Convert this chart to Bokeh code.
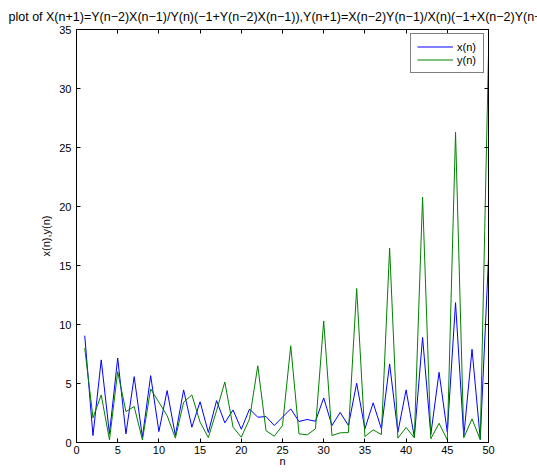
from bokeh.plotting import figure
from bokeh.models import Range1d, LinearAxis, FixedTicker
from bokeh.embed import file_html
from bokeh.resources import INLINE

n = list(range(1, 51))
x_n = [9.05, 0.59, 7.0, 0.73, 7.16, 0.73, 5.58, 0.45, 5.67, 0.93,
       4.4, 0.59, 4.46, 1.3, 3.45, 0.85, 3.55, 1.66, 2.76, 1.12,
       2.84, 2.14, 2.2, 1.44, 2.15, 2.85, 1.78, 1.95, 1.8, 3.78,
       1.44, 2.55, 1.44, 5.02, 1.16, 3.36, 1.16, 6.66, 0.87, 4.46,
       0.45, 8.9, 0.68, 5.95, 0.87, 11.85, 0.51, 7.9, 0.31, 15.6]
y_n = [8.0, 2.09, 4.03, 0.22, 6.0, 2.62, 3.05, 0.22, 4.54, 3.41,
       2.28, 0.37, 3.41, 4.03, 1.72, 0.42, 2.7, 5.13, 1.3, 0.45,
       2.0, 6.5, 1.0, 0.53, 1.44, 8.2, 0.73, 0.65, 1.16, 10.3,
       0.59, 0.82, 0.84, 13.05, 0.51, 1.07, 0.68, 16.47, 0.37, 1.27,
       0.4, 20.8, 0.31, 1.63, 0.23, 26.3, 0.4, 2.0, 0.23, 33.0]
x_ticks = list(range(0, 51, 5))
y_ticks = list(range(0, 36, 5))
title_text = ("plot of X(n+1)=Y(n\u22122)X(n\u22121)/Y(n)(\u22121+Y(n\u22122)X(n\u22121)),"
              "Y(n+1)=X(n\u22122)Y(n\u22121)/X(n)(\u22121+X(n\u22122)Y(n\u22121))")

FONT = "Liberation Sans"

p = figure(width=537, height=473, x_range=Range1d(0, 50), y_range=Range1d(0, 35),
           output_backend="svg", toolbar_location=None,
           min_border_left=76, min_border_right=49, min_border_top=29, min_border_bottom=31)
p.xgrid.visible = False
p.ygrid.visible = False
p.outline_line_color = "black"
p.background_fill_color = "white"

p.title.text = title_text
p.title.align = "left"
p.title.offset = -68
p.title.vertical_align = "bottom"
p.title.text_font = FONT
p.title.text_font_style = "normal"
p.title.text_font_size = "12.5px"
p.title.text_color = "black"
p.title.standoff = 11

def style_axis(ax, labels=True):
    ax.major_tick_in = 4
    ax.major_tick_out = 0
    ax.minor_tick_in = 0
    ax.minor_tick_out = 0
    ax.axis_line_color = "black"
    ax.major_tick_line_color = "black"
    ax.major_label_text_font = FONT
    ax.axis_label_text_font = FONT
    ax.axis_label_text_font_style = "normal"
    ax.axis_label_text_font_size = "11px"
    ax.axis_label_text_color = "black"
    if labels:
        ax.major_label_text_font_size = "11px"
        ax.major_label_text_color = "black"
    else:
        ax.major_label_text_font_size = "0px"
        ax.major_label_text_color = None
        ax.major_label_standoff = 0

xa = p.xaxis[0]
ya = p.yaxis[0]
xa.ticker = FixedTicker(ticks=x_ticks)
ya.ticker = FixedTicker(ticks=y_ticks)
style_axis(xa)
style_axis(ya)
xa.axis_label = "n"
ya.axis_label = "x(n),y(n)"
xa.major_label_standoff = 3
xa.axis_label_standoff = -2
ya.major_label_standoff = 5
ya.axis_label_standoff = 4

top = LinearAxis(ticker=FixedTicker(ticks=x_ticks))
style_axis(top, labels=False)
p.add_layout(top, "above")
right = LinearAxis(ticker=FixedTicker(ticks=y_ticks))
style_axis(right, labels=False)
p.add_layout(right, "right")

p.line(n, x_n, color="#0000ff", line_width=1, legend_label="x(n)")
p.line(n, y_n, color="#008000", line_width=1, legend_label="y(n)")

lg = p.legend[0]
lg.location = "top_right"
lg.border_line_color = "black"
lg.border_line_width = 1
lg.label_text_font = FONT
lg.label_text_font_size = "11px"
lg.label_text_color = "black"
lg.glyph_width = 36
lg.glyph_height = 13
lg.label_height = 13
lg.spacing = 0
lg.padding = 6
lg.margin = 4
lg.label_standoff = 4
lg.background_fill_alpha = 1.0

open("out.html", "w").write(file_html(p, INLINE))
